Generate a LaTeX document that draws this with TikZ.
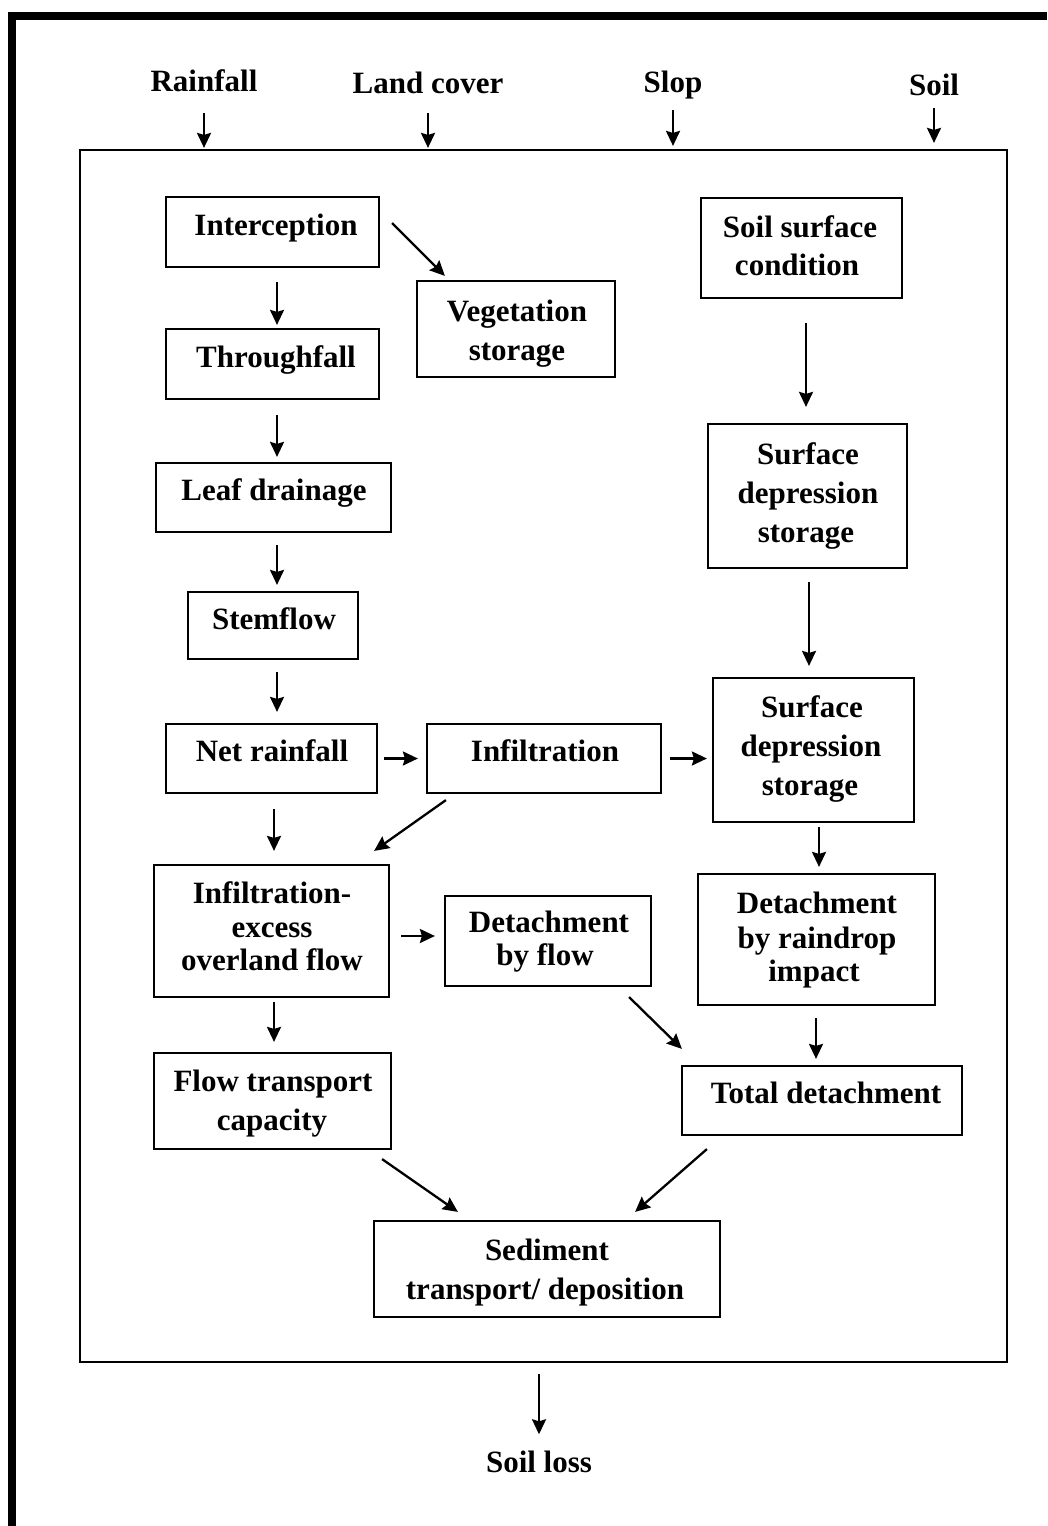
\documentclass[tikz,border=0pt]{standalone}
\usepackage{fontspec}
\setmainfont{Liberation Serif}
\usetikzlibrary{arrows.meta,fit}
\begin{document}
\begin{tikzpicture}[x=1pt,y=-1pt,
  box/.style={draw,line width=2.2pt,inner sep=0pt},
  tx/.style={anchor=base,inner sep=0pt,font=\fontsize{31}{36}\selectfont\bfseries},
  lab/.style={tx,text depth=0pt},
  arr/.style={line width=2.3pt,-{Stealth[length=15pt,width=14pt,inset=2pt]}}]
\useasboundingbox (0,0) rectangle (1047,1526);
\fill[white] (0,0) rectangle (1047,1526);
% outer frame
\draw[line width=8.5pt,line join=miter] (12,1526) -- (12,16) -- (1047,16);
% main box
\node[box,fit={(80,150) (1007,1362)}] (main) {};
% input labels
\node[lab] (rain) at (204,91) {Rainfall};
\node[lab] (land) at (428,93) {Land cover};
\node[lab] (slop) at (673,92) {Slop};
\node[lab] (soil) at (934,95) {Soil};
\node[lab] (loss) at (539,1472) {Soil loss};
% boxes
\node[box,fit={(166,197) (379,267)}] (int) {};
\node[box,fit={(417,281) (615,377)}] (veg) {};
\node[box,fit={(166,329) (379,399)}] (thr) {};
\node[box,fit={(156,463) (391,532)}] (leaf) {};
\node[box,fit={(188,592) (358,659)}] (stem) {};
\node[box,fit={(166,724) (377,793)}] (net) {};
\node[box,fit={(427,724) (661,793)}] (inf) {};
\node[box,fit={(701,198) (902,298)}] (ssc) {};
\node[box,fit={(708,424) (907,568)}] (sdsa) {};
\node[box,fit={(713,678) (914,822)}] (sdsb) {};
\node[box,fit={(154,865) (389,997)}] (ieof) {};
\node[box,fit={(445,896) (651,986)}] (dbf) {};
\node[box,fit={(698,874) (935,1005)}] (dri) {};
\node[box,fit={(154,1053) (391,1149)}] (ftc) {};
\node[box,fit={(682,1066) (962,1135)}] (td) {};
\node[box,fit={(374,1221) (720,1317)}] (sed) {};
% texts
\node[tx] (tint) at (276,235) {Interception};
\node[tx] (tveg1) at (517,321) {Vegetation};
\node[tx] (tveg2) at (517,360) {storage};
\node[tx] (tthr) at (276,367) {Throughfall};
\node[tx] (tleaf) at (274,500) {Leaf drainage};
\node[tx] (tstem) at (274,629) {Stemflow};
\node[tx] (tnet) at (272,761) {Net rainfall};
\node[tx] (tinf) at (545,761) {Infiltration};
\node[tx] (tssc1) at (800,237) {Soil surface};
\node[tx] (tssc2) at (797,275) {condition};
\node[tx] (tsa1) at (808,464) {Surface};
\node[tx] (tsa2) at (808,503) {depression};
\node[tx] (tsa3) at (806,542) {storage};
\node[tx] (tsb1) at (812,717) {Surface};
\node[tx] (tsb2) at (811,756) {depression};
\node[tx] (tsb3) at (810,795) {storage};
\node[tx] (tie1) at (272,903) {Infiltration-};
\node[tx] (tie2) at (272,937) {excess};
\node[tx] (tie3) at (272,970) {overland flow};
\node[tx] (tdf1) at (549,932) {Detachment};
\node[tx] (tdf2) at (545,965) {by flow};
\node[tx] (tdr1) at (817,913) {Detachment};
\node[tx] (tdr2) at (817,948) {by raindrop};
\node[tx] (tdr3) at (814,981) {impact};
\node[tx] (tft1) at (273,1091) {Flow transport};
\node[tx] (tft2) at (272,1130) {capacity};
\node[tx] (ttd) at (826,1103) {Total detachment};
\node[tx] (tsd1) at (547,1260) {Sediment};
\node[tx] (tsd2) at (545,1299) {transport/ deposition};
% input arrows
\draw[arr,shorten <=22pt,shorten >=1pt] (rain.south) -- (rain.south |- main.north);
\draw[arr,shorten <=20pt,shorten >=1pt] (land.south) -- (land.south |- main.north);
\draw[arr,shorten <=18pt,shorten >=3pt] (slop.south) -- (slop.south |- main.north);
\draw[arr,shorten <=13pt,shorten >=6pt] (soil.south) -- (soil.south |- main.north);
\draw[arr,shorten <=11pt,shorten >=16pt] (loss.north |- main.south) -- (loss.north);
% vertical arrows
\draw[arr,shorten <=14pt,shorten >=3pt] ([xshift=4.5pt]int.south) -- ([xshift=4.5pt]thr.north);
\draw[arr,shorten <=15pt,shorten >=5pt] ([xshift=4.5pt]thr.south) -- ([xshift=3.5pt]leaf.north);
\draw[arr,shorten <=12pt,shorten >=6pt] ([xshift=3.5pt]leaf.south) -- ([xshift=4pt]stem.north);
\draw[arr,shorten <=12pt,shorten >=11pt] ([xshift=4pt]stem.south) -- ([xshift=5.5pt]net.north);
\draw[arr,shorten <=15pt,shorten >=13pt] ([xshift=2.5pt]net.south) -- ([xshift=2.5pt]ieof.north);
\draw[arr,shorten <=4pt,shorten >=10pt] ([xshift=2.5pt]ieof.south) -- ([xshift=1.5pt]ftc.north);
\draw[arr,shorten <=24pt,shorten >=16pt] ([xshift=4.5pt]ssc.south) -- ([xshift=-1.5pt]sdsa.north);
\draw[arr,shorten <=13pt,shorten >=11pt] ([xshift=1.5pt]sdsa.south) -- ([xshift=-4.5pt]sdsb.north);
\draw[arr,shorten <=4pt,shorten >=6pt] ([xshift=5.5pt]sdsb.south) -- ([xshift=2.5pt]dri.north);
\draw[arr,shorten <=12pt,shorten >=6pt] ([xshift=-0.5pt]dri.south) -- ([xshift=-6pt]td.north);
% horizontal arrows
\draw[arr,shorten <=6pt,shorten >=8pt] (net.east) -- (inf.west);
\draw[arr,shorten <=8pt,shorten >=5pt] (inf.east) -- (inf.east -| sdsb.west);
\draw[arr,shorten <=11pt,shorten >=9pt] ([shift={(0,5)}]ieof.east) -- ([shift={(0,-5)}]dbf.west);
% diagonal arrows
\draw[arr] ([shift={(12,-9)}]int.east) -- ([shift={(29,-4)}]veg.north west);
\draw[arr] ([shift={(20,6)}]inf.south west) -- ([shift={(-16,-13)}]ieof.north east);
\draw[arr] ([shift={(-23,10)}]dbf.south east) -- ([shift={(1,-16)}]td.north west);
\draw[arr] ([shift={(-10,9)}]ftc.south east) -- ([shift={(85,-8)}]sed.north west);
\draw[arr] ([shift={(26,13)}]td.south west) -- ([shift={(-86,-8)}]sed.north east);
\end{tikzpicture}
\end{document}
